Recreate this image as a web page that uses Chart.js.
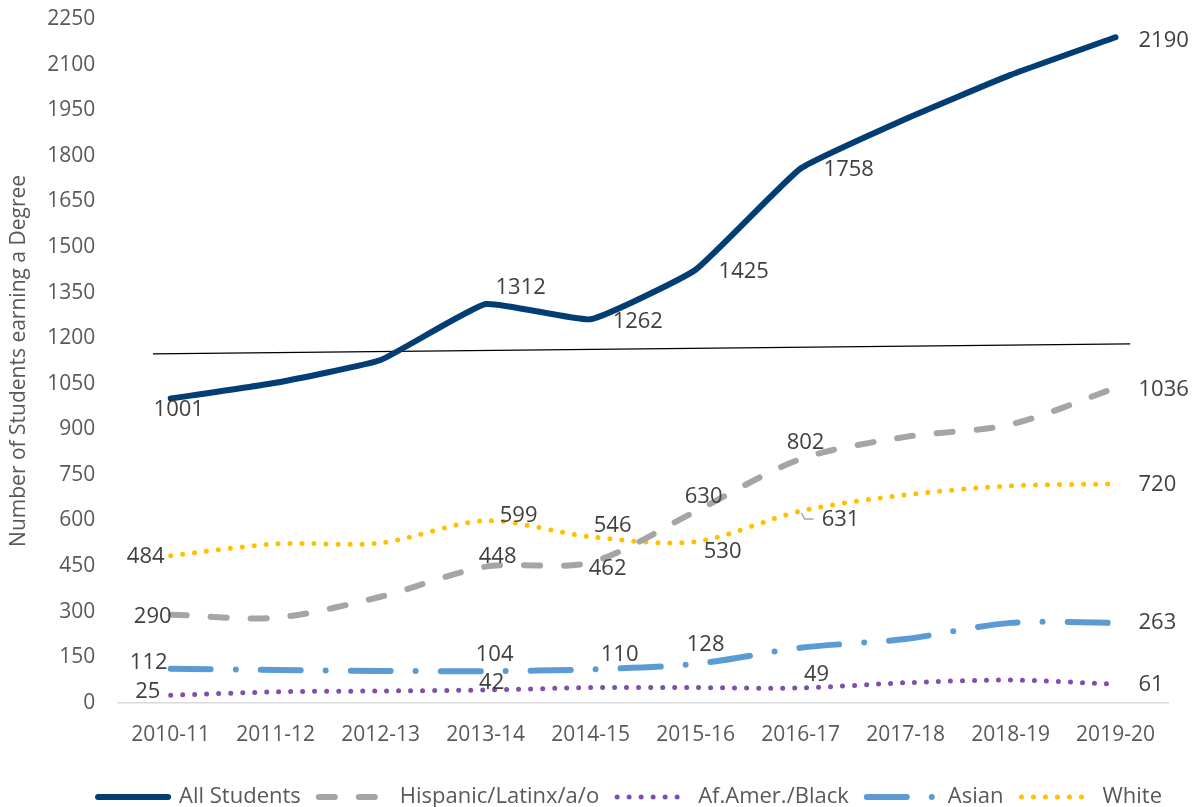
<!DOCTYPE html>
<html>
<head>
<meta charset="utf-8">
<script src="https://cdn.jsdelivr.net/npm/chart.js@4.4.0/dist/chart.umd.min.js"></script>
<style>
  html, body { margin: 0; padding: 0; background: #fff; }
  #wrap { width: 1195px; height: 807px; }
</style>
</head>
<body>
<div id="wrap"><canvas id="chart"></canvas></div>
<script>
// values
const years = ["2010-11", "2011-12", "2012-13", "2013-14", "2014-15", "2015-16", "2016-17", "2017-18", "2018-19", "2019-20"]
const allStudents = [1001, 1053, 1128, 1312, 1262, 1425, 1758, 1921, 2066, 2190]
const hispanic = [290, 280, 349, 448, 462, 630, 802, 875, 916, 1036]
const black = [25, 36, 39, 42, 50, 50, 49, 66, 75, 61]
const asian = [112, 108, 105, 104, 110, 128, 181, 210, 263, 263]
const white = [484, 523, 526, 599, 546, 530, 631, 684, 714, 720]
// thin black line across the plot (category index positions)
const trendX = [-0.17, 9.14]
const trendY = [1148, 1181]
const yTicks = { min: 0, max: 2250, step: 150 }

// where each printed value sits relative to its point
const labelSpots = {
  "All Students": { 0: [8, 11], 3: [35, -16], 4: [22, 2, "left"], 5: [23, 2, "left"], 6: [23, 1, "left"], 9: [23, 3, "left"] },
  "Hispanic/Latinx/a/o": { 0: [-18, 2], 3: [12, -10], 4: [17, 6], 5: [8, -15], 6: [5, -16], 9: [23, 2, "left"] },
  "Af.Amer./Black": { 0: [-23, -3], 3: [6, -7], 6: [16, -13], 9: [23, 0, "left"] },
  "Asian": { 0: [-22, -6], 3: [9, -16], 4: [29, -15], 5: [10, -19], 9: [23, 0, "left"] },
  "White": { 0: [-25, 1], 3: [33, -5], 4: [22, -11], 5: [27, 10], 6: [40, 9, "center", true], 9: [23, 1, "left"] }
}

const FONT = '"Open Sans", sans-serif'

const valueLabels = {
  id: "valueLabels",
  afterDatasetsDraw(chart) {
    const ctx = chart.ctx
    ctx.save()
    ctx.font = "22px " + FONT
    ctx.fillStyle = "#404040"
    ctx.textBaseline = "middle"
    chart.data.datasets.forEach((ds, di) => {
      const spots = labelSpots[ds.label]
      if (!spots) return
      const meta = chart.getDatasetMeta(di)
      Object.keys(spots).forEach((k) => {
        const i = Number(k)
        const [dx, dy, align, leader] = spots[k]
        const pt = meta.data[i]
        ctx.textAlign = align || "center"
        ctx.fillText(String(ds.data[i]), pt.x + dx, pt.y + dy)
        if (leader) {
          ctx.strokeStyle = "#a6a6a6"
          ctx.lineWidth = 1.5
          ctx.beginPath()
          ctx.moveTo(pt.x + 1, pt.y + 2)
          ctx.lineTo(pt.x + 4, pt.y + 8)
          ctx.lineTo(pt.x + 13, pt.y + 8)
          ctx.stroke()
        }
      })
    })
    ctx.restore()
  }
}

function series(label, data, color, width, dash, tension) {
  return {
    label: label,
    data: data,
    borderColor: color,
    backgroundColor: color,
    borderWidth: width,
    borderDash: dash,
    borderCapStyle: "round",
    borderJoinStyle: "round",
    pointRadius: 0,
    tension: tension,
    fill: false
  }
}

new Chart(document.getElementById("chart"), {
  type: "line",
  data: {
    labels: years,
    datasets: [
      series("All Students", allStudents, "#023e73", 6, [], 0.12),
      series("Hispanic/Latinx/a/o", hispanic, "#a5a5a5", 6, [16, 24], 0.3),
      series("Af.Amer./Black", black, "#7e4fab", 5, [0, 12], 0.3),
      series("Asian", asian, "#5b9bd5", 6, [40, 25, 0, 25], 0.3),
      series("White", white, "#ffc000", 5, [0, 12], 0.3),
      {
        label: "trend",
        data: trendX.map((x, i) => ({ x: x, y: trendY[i] })),
        xAxisID: "x2",
        borderColor: "#000000",
        borderWidth: 1.3,
        pointRadius: 0,
        tension: 0
      }
    ]
  },
  options: {
    responsive: true,
    maintainAspectRatio: false,
    animation: false,
    layout: { padding: { left: 4, right: 15, top: 0, bottom: -11 } },
    plugins: {
      tooltip: { enabled: false },
      legend: {
        position: "bottom",
        align: "end",
        labels: {
          font: { family: FONT, size: 22 },
          color: "#595959",
          usePointStyle: true,
          pointStyle: "line",
          pointStyleWidth: 70,
          boxHeight: 22,
          padding: 18,
          filter: (item) => item.text !== "trend",
          generateLabels: (chart) => {
            const items = Chart.defaults.plugins.legend.labels.generateLabels(chart)
            items.forEach((item) => {
              const ds = chart.data.datasets[item.datasetIndex]
              item.lineDash = ds.borderDash || []
              item.lineCap = "round"
              item.lineWidth = ds.borderWidth
              item.strokeStyle = ds.borderColor
            })
            return items
          }
        }
      }
    },
    scales: {
      x: {
        type: "category",
        offset: true,
        grid: { display: false, drawTicks: false },
        border: { display: true, color: "#d9d9d9", width: 1.5 },
        ticks: { font: { family: FONT, size: 21 }, color: "#595959", padding: 20, maxRotation: 0, autoSkip: false }
      },
      x2: {
        type: "linear",
        display: false,
        min: -0.5,
        max: 9.5
      },
      y: {
        min: yTicks.min,
        max: yTicks.max,
        grid: { display: false, drawTicks: false },
        border: { display: false },
        ticks: {
          stepSize: yTicks.step,
          font: { family: FONT, size: 21 },
          color: "#595959",
          padding: 23,
          callback: (v) => String(v)
        },
        title: {
          display: true,
          text: "Number of Students earning a Degree",
          font: { family: FONT, size: 21 },
          color: "#595959",
          padding: { top: 2, bottom: -7 }
        },
        afterFit: (scale) => { scale.paddingTop = 19 }
      },
      // empty spacer on the right so the plot ends where the reference does
      ySpacer: {
        position: "right",
        grid: { display: false, drawTicks: false },
        border: { display: false },
        ticks: { display: false },
        afterFit: (scale) => { scale.width = 12 }
      }
    }
  },
  plugins: [valueLabels]
})
</script>
</body>
</html>
